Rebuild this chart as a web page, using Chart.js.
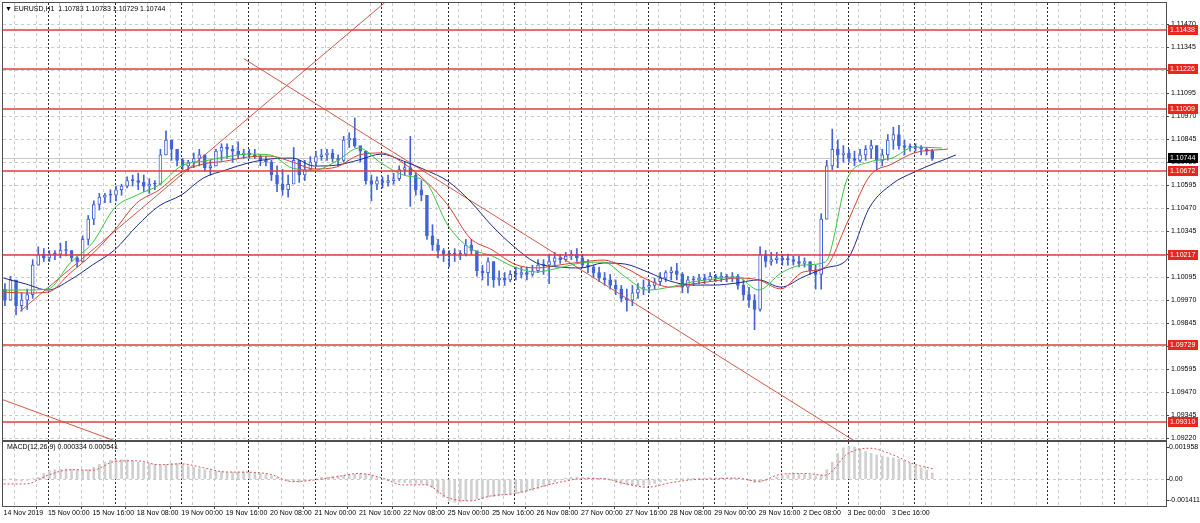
<!DOCTYPE html>
<html>
<head>
<meta charset="utf-8">
<script src="https://cdn.jsdelivr.net/npm/chart.js@4.4.1/dist/chart.umd.min.js"></script>
<style>
  html, body { margin: 0; padding: 0; background: #fff; }
  #wrap { position: relative; width: 1200px; height: 523px; overflow: hidden; background: #fff; }
  canvas { position: absolute; left: 0; }
  #price { top: 0; }
  #macd { top: 441px; }
</style>
</head>
<body>
<div id="wrap">
  <canvas id="price" width="1200" height="442"></canvas>
  <canvas id="macd" width="1200" height="82"></canvas>
</div>
<script>
// EURUSD H1, 14 Nov - 4 Dec 2019. One candle below = two hourly bars.
const timeLabels = ['14 Nov 2019', '15 Nov 00:00', '15 Nov 16:00', '18 Nov 08:00', '19 Nov 00:00',
  '19 Nov 16:00', '20 Nov 08:00', '21 Nov 00:00', '21 Nov 16:00', '22 Nov 08:00', '25 Nov 00:00',
  '25 Nov 16:00', '26 Nov 08:00', '27 Nov 00:00', '27 Nov 16:00', '28 Nov 08:00', '29 Nov 00:00',
  '29 Nov 16:00', '2 Dec 08:00', '3 Dec 00:00', '3 Dec 16:00'];
const priceTicks = [1.11470, 1.11345, 1.11220, 1.11095, 1.10970, 1.10845, 1.10720, 1.10595, 1.10470,
  1.10345, 1.10220, 1.10095, 1.09970, 1.09845, 1.09720, 1.09595, 1.09470, 1.09345, 1.09220];
const levels = [1.11438, 1.11226, 1.11009, 1.10672, 1.10217, 1.09729, 1.09310];
const lastPrice = 1.10744;
const firstOpen = 1.1003;

const highs = [
  1.1006, 1.1010, 1.1005, 1.1001, 1.1003, 1.1019, 1.1026, 1.1025, 1.1024, 1.1024,
  1.1028, 1.1029, 1.1024, 1.1021, 1.1032, 1.1043, 1.1051, 1.1055, 1.1055, 1.1057,
  1.1059, 1.1060, 1.1064, 1.1065, 1.1066, 1.1065, 1.1063, 1.1062, 1.1079, 1.1089,
  1.1084, 1.1079, 1.1074, 1.1073, 1.1077, 1.1079, 1.1076, 1.1073, 1.1079, 1.1082,
  1.1082, 1.1081, 1.1083, 1.1079, 1.1079, 1.1079, 1.1076, 1.1075, 1.1073, 1.1070,
  1.1068, 1.1065, 1.1080, 1.1072, 1.1073, 1.1075, 1.1078, 1.1079, 1.1079, 1.1079,
  1.1076, 1.1086, 1.1088, 1.1096, 1.1080, 1.1076, 1.1065, 1.1064, 1.1064, 1.1065,
  1.1066, 1.1070, 1.1072, 1.1086, 1.1066, 1.1062, 1.1049, 1.1038, 1.1030, 1.1025,
  1.1024, 1.1025, 1.1024, 1.1030, 1.1030, 1.1022, 1.1016, 1.1020, 1.1018, 1.1013,
  1.1012, 1.1013, 1.1015, 1.1015, 1.1015, 1.1016, 1.1019, 1.1019, 1.1022, 1.1023,
  1.1022, 1.1023, 1.1024, 1.1025, 1.1022, 1.1019, 1.1016, 1.1015, 1.1012, 1.1011,
  1.1008, 1.1005, 1.1003, 1.1005, 1.1006, 1.1008, 1.1008, 1.1009, 1.1012, 1.1013,
  1.1015, 1.1017, 1.1012, 1.1010, 1.1010, 1.1011, 1.1011, 1.1012, 1.1011, 1.1012,
  1.1011, 1.1012, 1.1011, 1.1008, 1.1004, 1.1000, 1.1026, 1.1024, 1.1023, 1.1023,
  1.1022, 1.1022, 1.1021, 1.1021, 1.1020, 1.1018, 1.1016, 1.1044, 1.1073, 1.1090,
  1.1084, 1.1081, 1.1079, 1.1078, 1.1079, 1.1081, 1.1084, 1.1081, 1.1079, 1.1087,
  1.1091, 1.1092, 1.1084, 1.1082, 1.1082, 1.1081, 1.1080, 1.1079];
const lows = [
  1.0994, 1.0997, 1.0989, 1.0991, 1.0992, 1.0998, 1.1016, 1.1018, 1.1018, 1.1019,
  1.1020, 1.1021, 1.1018, 1.1015, 1.1018, 1.1027, 1.1038, 1.1046, 1.1050, 1.1050,
  1.1051, 1.1054, 1.1058, 1.1059, 1.1057, 1.1056, 1.1055, 1.1057, 1.1060, 1.1076,
  1.1073, 1.1070, 1.1068, 1.1067, 1.1069, 1.1070, 1.1067, 1.1065, 1.1070, 1.1073,
  1.1074, 1.1072, 1.1074, 1.1074, 1.1074, 1.1074, 1.1070, 1.1070, 1.1062, 1.1056,
  1.1054, 1.1053, 1.1063, 1.1061, 1.1062, 1.1068, 1.1070, 1.1073, 1.1073, 1.1072,
  1.1070, 1.1072, 1.1080, 1.1080, 1.1072, 1.1060, 1.1051, 1.1057, 1.1058, 1.1059,
  1.1060, 1.1062, 1.1065, 1.1048, 1.1054, 1.1051, 1.1030, 1.1024, 1.1020, 1.1018,
  1.1015, 1.1018, 1.1019, 1.1021, 1.1022, 1.1010, 1.1008, 1.1005, 1.1004, 1.1005,
  1.1005, 1.1007, 1.1008, 1.1009, 1.1008, 1.1010, 1.1012, 1.1011, 1.1006, 1.1016,
  1.1017, 1.1018, 1.1019, 1.1018, 1.1015, 1.1012, 1.1009, 1.1007, 1.1005, 1.1003,
  1.1000, 1.0996, 1.0991, 1.0994, 1.0998, 1.1000, 1.1001, 1.1003, 1.1005, 1.1007,
  1.1008, 1.1008, 1.1001, 1.1001, 1.1005, 1.1006, 1.1006, 1.1007, 1.1007, 1.1007,
  1.1007, 1.1007, 1.1003, 1.0997, 1.0993, 1.0981, 1.0991, 1.1015, 1.1016, 1.1017,
  1.1016, 1.1016, 1.1016, 1.1015, 1.1015, 1.1011, 1.1003, 1.1003, 1.1041, 1.1068,
  1.1069, 1.1072, 1.1072, 1.1070, 1.1072, 1.1073, 1.1074, 1.1068, 1.1070, 1.1073,
  1.1079, 1.1079, 1.1076, 1.1078, 1.1078, 1.1076, 1.1076, 1.1073];
const closes = [
  1.0997, 1.1008, 1.0994, 1.0997, 1.1000, 1.1016, 1.1022, 1.1020, 1.1022, 1.1022,
  1.1024, 1.1024, 1.1020, 1.1018, 1.1030, 1.1041, 1.1049, 1.1053, 1.1054, 1.1054,
  1.1057, 1.1059, 1.1062, 1.1062, 1.1061, 1.1059, 1.1060, 1.1060, 1.1076, 1.1084,
  1.1079, 1.1073, 1.1070, 1.1072, 1.1074, 1.1076, 1.1069, 1.1070, 1.1078, 1.1080,
  1.1079, 1.1078, 1.1076, 1.1077, 1.1076, 1.1075, 1.1073, 1.1072, 1.1065, 1.1060,
  1.1057, 1.1060, 1.1073, 1.1065, 1.1068, 1.1072, 1.1075, 1.1076, 1.1077, 1.1074,
  1.1073, 1.1084, 1.1085, 1.1081, 1.1078, 1.1062, 1.1060, 1.1062, 1.1061, 1.1062,
  1.1063, 1.1068, 1.1069, 1.1065, 1.1057, 1.1054, 1.1032, 1.1027, 1.1024, 1.1022,
  1.1022, 1.1022, 1.1022, 1.1027, 1.1024, 1.1013, 1.1012, 1.1018, 1.1008, 1.1009,
  1.1008, 1.1011, 1.1011, 1.1012, 1.1011, 1.1013, 1.1016, 1.1016, 1.1018, 1.1020,
  1.1019, 1.1021, 1.1022, 1.1020, 1.1016, 1.1015, 1.1012, 1.1009, 1.1008, 1.1005,
  1.1003, 1.0998, 1.0997, 1.1001, 1.1003, 1.1004, 1.1005, 1.1007, 1.1009, 1.1012,
  1.1013, 1.1011, 1.1004, 1.1008, 1.1008, 1.1009, 1.1008, 1.1010, 1.1009, 1.1010,
  1.1009, 1.1010, 1.1005, 1.1000, 1.0997, 1.0992, 1.1022, 1.1018, 1.1019, 1.1020,
  1.1019, 1.1019, 1.1018, 1.1017, 1.1018, 1.1013, 1.1011, 1.1041, 1.1070, 1.1079,
  1.1076, 1.1077, 1.1074, 1.1073, 1.1076, 1.1079, 1.1081, 1.1073, 1.1076, 1.1084,
  1.1087, 1.1081, 1.1080, 1.1080, 1.1080, 1.1079, 1.1078, 1.1074];

// Alligator lines, one value every 8 hourly bars, then the shifted end point
const lips = [1.10025, 1.10025, 1.10031, 1.10172, 1.10281, 1.10471, 1.10541, 1.10596, 1.10699, 1.10726,
  1.10748, 1.10764, 1.10759, 1.10688, 1.10677, 1.10726, 1.10797, 1.10715, 1.10650, 1.10612,
  1.10378, 1.10253, 1.10210, 1.10150, 1.10123, 1.10145, 1.10172, 1.10177, 1.10096, 1.10025,
  1.10041, 1.10069, 1.10085, 1.10096, 1.10025, 1.10117, 1.10161, 1.10177, 1.10634, 1.10721,
  1.10742, 1.10802];
const teeth = [1.10014, 1.10009, 1.10014, 1.10117, 1.10221, 1.10351, 1.10498, 1.10569, 1.10666, 1.10710,
  1.10726, 1.10748, 1.10753, 1.10721, 1.10683, 1.10694, 1.10759, 1.10770, 1.10715, 1.10617,
  1.10487, 1.10308, 1.10243, 1.10166, 1.10145, 1.10161, 1.10177, 1.10188, 1.10145, 1.10080,
  1.10041, 1.10058, 1.10074, 1.10090, 1.10080, 1.10031, 1.10123, 1.10150, 1.10395, 1.10645,
  1.10710, 1.10770];
const jaw = [1.10090, 1.10058, 1.10025, 1.10080, 1.10161, 1.10243, 1.10373, 1.10482, 1.10541, 1.10634,
  1.10677, 1.10715, 1.10737, 1.10742, 1.10699, 1.10704, 1.10732, 1.10764, 1.10726, 1.10677,
  1.10617, 1.10509, 1.10373, 1.10259, 1.10172, 1.10150, 1.10145, 1.10172, 1.10166, 1.10123,
  1.10074, 1.10052, 1.10052, 1.10063, 1.10080, 1.10041, 1.10096, 1.10145, 1.10194, 1.10476,
  1.10601, 1.10666];
const lipsEnd = [338, 1.10797], teethEnd = [340, 1.10791], jawEnd = [343, 1.10759];

// drawn trend lines: [bar, price] pairs
const trendLines = [
  [[6, 1.0991], [143, 1.1166]],
  [[86.6, 1.11282], [317.5, 1.09101]],
  [[-1, 1.09433], [42, 1.09195]]
];

// MACD(12,26,9)
const macdHist = [
  -0.00005, 0.00003, -0.00008, -0.00010, -0.00006, 0.00002, 0.00010, 0.00030, 0.00045, 0.00050,
  0.00052, 0.00054, 0.00053, 0.00050, 0.00049, 0.00050, 0.00062, 0.00078, 0.00090, 0.00100,
  0.00103, 0.00103, 0.00102, 0.00097, 0.00090, 0.00086, 0.00082, 0.00078, 0.00076, 0.00078,
  0.00082, 0.00082, 0.00078, 0.00070, 0.00062, 0.00055, 0.00050, 0.00045, 0.00042, 0.00039,
  0.00037, 0.00037, 0.00037, 0.00037, 0.00036, 0.00034, 0.00030, 0.00024, 0.00018, 0.00008,
  0.00000, -0.00010, -0.00014, -0.00016, -0.00010, -0.00002, 0.00006, 0.00010, 0.00012, 0.00014,
  0.00018, 0.00021, 0.00024, 0.00026, 0.00028, 0.00027, 0.00020, 0.00008, -0.00002, -0.00008,
  -0.00012, -0.00016, -0.00018, -0.00020, -0.00021, -0.00022, -0.00030, -0.00045, -0.00075, -0.00095,
  -0.00115, -0.00121, -0.00120, -0.00113, -0.00108, -0.00103, -0.00098, -0.00094, -0.00092, -0.00088,
  -0.00083, -0.00079, -0.00075, -0.00070, -0.00064, -0.00058, -0.00050, -0.00040, -0.00028, -0.00014,
  -0.00002, 0.00006, 0.00010, 0.00011, 0.00010, 0.00010, 0.00008, 0.00006, 0.00002, -0.00006,
  -0.00018, -0.00026, -0.00030, -0.00032, -0.00033, -0.00032, -0.00028, -0.00022, -0.00014, -0.00008,
  -0.00002, 0.00003, 0.00002, 0.00004, 0.00005, 0.00006, 0.00006, 0.00007, 0.00007, 0.00008,
  0.00008, 0.00006, 0.00004, 0.00000, -0.00008, -0.00018, -0.00016, -0.00008, 0.00002, 0.00012,
  0.00020, 0.00024, 0.00026, 0.00027, 0.00026, 0.00022, 0.00018, 0.00022, 0.00050, 0.00090,
  0.00135, 0.00165, 0.00172, 0.00170, 0.00158, 0.00145, 0.00136, 0.00128, 0.00122, 0.00116,
  0.00112, 0.00106, 0.00096, 0.00084, 0.00072, 0.00060, 0.00048, 0.00033];
const macdSignal = [-0.00025, -0.00025, 0.00021, 0.00050, 0.00047, 0.00093, 0.00097, 0.00076, 0.00081, 0.00060,
  0.00038, 0.00037, 0.00026, -0.00013, -0.00004, 0.00013, 0.00030, 0.00008, -0.00030, -0.00029,
  -0.00097, -0.00114, -0.00087, -0.00076, -0.00046, -0.00017, 0.00002, 0.00003, -0.00024, -0.00042,
  -0.00019, -0.00003, 0.00001, 0.00006, -0.00011, 0.00026, 0.00030, 0.00021, 0.00134, 0.00163,
  0.00130, 0.00079];
const signalEnd = [335, 0.000541];
const macdMin = -0.001411, macdMax = 0.001958;

// layout of the MT4 window
const X_MIN = -0.2, X_MAX = 418.7;
const Y_MIN = 1.09210, Y_MAX = 1.11585;
const STEP = 8;
const BLUE = '#4264d6';
const GRID = '#c9c9c9';
const FONT = "'Liberation Sans', Arial, sans-serif";

Chart.defaults.font.family = FONT;
Chart.defaults.font.size = 7;
Chart.defaults.color = '#000';

const gridTicks = [];
for (let b = 0; b <= X_MAX; b += STEP) gridTicks.push({ value: b });
const daySeps = [];
for (let b = 16; b <= X_MAX; b += 24) daySeps.push(b);

const candleX = g => g * 2 + 0.5;
const opens = closes.map((c, g) => g ? closes[g - 1] : firstOpen);
const wicks = highs.map((h, g) => ({ x: candleX(g), y: [lows[g], h] }));
const bodies = closes.map((c, g) => ({ x: candleX(g), y: [opens[g], c] }));
const bodyColors = closes.map((c, g) => c > opens[g] ? '#ffffff' : BLUE);

function sampled(vals, end) {
  return vals.map((v, k) => ({ x: k * STEP, y: v })).concat([{ x: end[0], y: end[1] }]);
}
function lineDs(data, color, extra) {
  return Object.assign({ type: 'line', data, borderColor: color, borderWidth: 1, pointRadius: 0,
    cubicInterpolationMode: 'monotone', fill: false, order: 0 }, extra || {});
}
// keep the plot box exactly where the MT4 panes are
function noPad(s) { s.paddingTop = 0; s.paddingBottom = 0; s.paddingLeft = 0; s.paddingRight = 0; }

function drawSeps(ctx, a, x) {
  ctx.save();
  ctx.beginPath(); ctx.rect(a.left, a.top, a.width, a.height); ctx.clip();
  ctx.strokeStyle = '#2a2a2a'; ctx.lineWidth = 1; ctx.setLineDash([2, 2]);
  daySeps.forEach(b => {
    const px = Math.round(x.getPixelForValue(b)) + 0.5;
    ctx.beginPath(); ctx.moveTo(px, a.top); ctx.lineTo(px, a.bottom); ctx.stroke();
  });
  ctx.restore();
}
function frame(ctx, a) {
  ctx.save();
  ctx.strokeStyle = '#505050'; ctx.lineWidth = 1; ctx.setLineDash([]);
  ctx.strokeRect(a.left - 0.5, a.top - 0.5, a.width + 1, a.height + 1);
  ctx.restore();
}
function tag(ctx, a, py, text, bg) {
  ctx.fillStyle = bg;
  ctx.fillRect(a.right + 2, Math.round(py) - 5, 30, 10);
  ctx.fillStyle = '#fff';
  ctx.font = '7px ' + FONT;
  ctx.textBaseline = 'middle'; ctx.textAlign = 'left';
  ctx.fillText(text, a.right + 4, Math.round(py));
}

const pricePlugin = {
  id: 'mt4price',
  beforeDatasetsDraw(chart) {
    const { ctx, chartArea: a, scales: { x, y } } = chart;
    drawSeps(ctx, a, x);
    const py = Math.round(y.getPixelForValue(lastPrice)) + 0.5;
    ctx.save();
    ctx.strokeStyle = '#c8c8c8'; ctx.lineWidth = 1; ctx.setLineDash([]);
    ctx.beginPath(); ctx.moveTo(a.left, py); ctx.lineTo(a.right, py); ctx.stroke();
    ctx.restore();
  },
  afterDatasetsDraw(chart) {
    const { ctx, chartArea: a, scales: { y } } = chart;
    ctx.save();
    ctx.setLineDash([]);
    ctx.strokeStyle = '#e03c3c'; ctx.lineWidth = 1.5;
    levels.forEach(v => {
      const py = Math.round(y.getPixelForValue(v));
      ctx.beginPath(); ctx.moveTo(a.left, py); ctx.lineTo(a.right, py); ctx.stroke();
    });
    ctx.restore();
  },
  afterDraw(chart) {
    const { ctx, chartArea: a, scales: { y } } = chart;
    frame(ctx, a);
    ctx.save();
    levels.forEach(v => tag(ctx, a, y.getPixelForValue(v), v.toFixed(5), '#e8261e'));
    tag(ctx, a, y.getPixelForValue(lastPrice), lastPrice.toFixed(5), '#000');
    ctx.fillStyle = '#000'; ctx.font = '7px ' + FONT;
    ctx.textBaseline = 'middle'; ctx.textAlign = 'left';
    ctx.fillText('\u25BC', 5, 9);
    ctx.fillText('EURUSD,H1  1.10783 1.10783 1.10729 1.10744', 14, 9);
    ctx.restore();
  }
};

const macdPlugin = {
  id: 'mt4macd',
  beforeDatasetsDraw(chart) {
    drawSeps(chart.ctx, chart.chartArea, chart.scales.x);
  },
  afterDraw(chart) {
    const { ctx, chartArea: a, scales: { y } } = chart;
    frame(ctx, a);
    ctx.save();
    ctx.fillStyle = '#000'; ctx.font = '7px ' + FONT;
    ctx.textBaseline = 'middle'; ctx.textAlign = 'left';
    ctx.fillText('MACD(12,26,9) 0.000334 0.000541', 7, 6);
    ctx.strokeStyle = '#444';
    [[macdMax, 5, '0.001958'], [0, 0, '0.00'], [macdMin, -6, '-0.001411']].forEach(([v, off, t]) => {
      const py = Math.round(y.getPixelForValue(v)) + off;
      ctx.beginPath(); ctx.moveTo(a.right, py + 0.5); ctx.lineTo(a.right + 3, py + 0.5); ctx.stroke();
      ctx.fillText(t, a.right + 3, py);
    });
    ctx.restore();
  }
};

const xBase = {
  type: 'linear', min: X_MIN, max: X_MAX, offset: false,
  afterBuildTicks: s => { s.ticks = gridTicks.map(t => ({ value: t.value })); },
  border: { display: false, dash: [3, 3] }
};

new Chart(document.getElementById('price'), {
  type: 'line',
  data: {
    datasets: [
      lineDs(sampled(lips, lipsEnd), '#3cc23c'),
      lineDs(sampled(teeth, teethEnd), '#d9402e'),
      lineDs(sampled(jaw, jawEnd), '#1d2a8a'),
      ...trendLines.map(t => lineDs(t.map(p => ({ x: p[0], y: p[1] })), '#cf5a48', { cubicInterpolationMode: 'default', tension: 0 })),
      { type: 'bar', data: bodies, backgroundColor: bodyColors, borderColor: BLUE, borderWidth: 1,
        borderSkipped: false, barThickness: 3, minBarLength: 1, grouped: false, order: 1 },
      { type: 'bar', data: wicks, backgroundColor: BLUE, borderWidth: 0, barThickness: 1, grouped: false, order: 2 }
    ]
  },
  options: {
    responsive: false, animation: false, events: [],
    layout: { padding: { left: 3, top: 3, right: 0, bottom: 2 } },
    plugins: { legend: { display: false }, tooltip: { enabled: false } },
    scales: {
      x: Object.assign({}, xBase, {
        afterFit: s => { s.height = 0; noPad(s); },
        ticks: { display: false },
        grid: { color: GRID, drawTicks: false, lineWidth: 1 }
      }),
      y: {
        position: 'right', min: Y_MIN, max: Y_MAX,
        afterBuildTicks: s => { s.ticks = priceTicks.map(v => ({ value: v })); },
        afterFit: s => { s.width = 34; noPad(s); },
        ticks: { autoSkip: false, padding: 2, callback: v => v.toFixed(5) },
        grid: { color: GRID, tickColor: '#444', tickLength: 3, tickBorderDash: [], lineWidth: 1 },
        border: { display: false, dash: [3, 3] }
      }
    }
  },
  plugins: [pricePlugin]
});

new Chart(document.getElementById('macd'), {
  type: 'line',
  data: {
    datasets: [
      lineDs(sampled(macdSignal, signalEnd), '#d75a5a', { borderDash: [2, 2] }),
      { type: 'bar', data: macdHist.map((v, g) => ({ x: candleX(g), y: v })), backgroundColor: '#d0d0d0',
        borderWidth: 0, barThickness: 2, grouped: false, order: 1 }
    ]
  },
  options: {
    responsive: false, animation: false, events: [],
    layout: { padding: { left: 3, top: 1, right: 0, bottom: 0 } },
    plugins: { legend: { display: false }, tooltip: { enabled: false } },
    scales: {
      x: Object.assign({}, xBase, {
        afterFit: s => { s.height = 17; noPad(s); },
        ticks: {
          autoSkip: false, maxRotation: 0, align: 'start', padding: 0,
          callback: v => (v % 16 === 0 && timeLabels[v / 16]) ? timeLabels[v / 16] : ''
        },
        grid: {
          color: GRID, lineWidth: 1, tickLength: 3, tickBorderDash: [],
          tickColor: c => (c.tick && c.tick.value % 16 === 0 && timeLabels[c.tick.value / 16]) ? '#444' : 'rgba(0,0,0,0)'
        }
      }),
      y: {
        position: 'right', min: macdMin, max: macdMax,
        afterBuildTicks: s => { s.ticks = [{ value: 0 }]; },
        afterFit: s => { s.width = 34; noPad(s); },
        ticks: { display: false },
        grid: { color: GRID, drawTicks: false, lineWidth: 1 },
        border: { display: false, dash: [3, 3] }
      }
    }
  },
  plugins: [macdPlugin]
});
</script>
</body>
</html>
